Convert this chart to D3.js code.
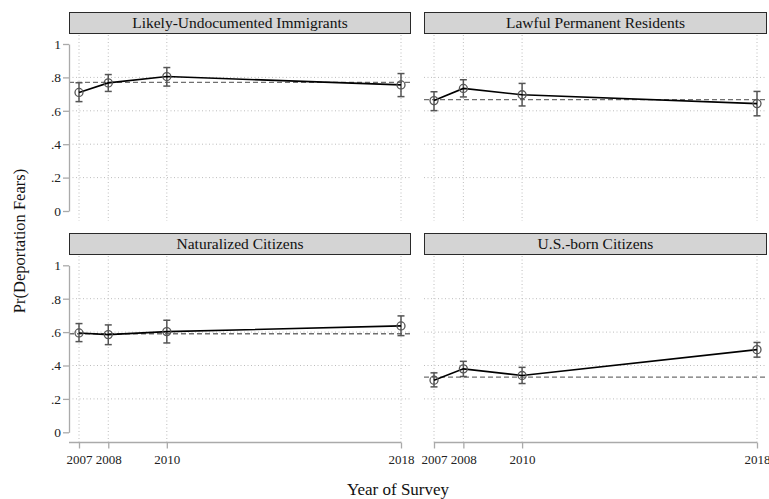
<!DOCTYPE html>
<html>
<head>
<meta charset="utf-8">
<script src="https://cdn.jsdelivr.net/npm/d3@7"></script>
<style>
  html, body { margin: 0; padding: 0; background: #fff; }
  svg { display: block; font-family: "Liberation Serif", "Times New Roman", serif; }
  svg text { font-family: "Liberation Serif", "Times New Roman", serif; }
</style>
</head>
<body>
<svg id="chart" width="769" height="499"></svg>
<script>
// ---- Data ----
const years = [2007, 2008, 2010, 2018];
const groups = ["Likely-Undocumented Immigrants", "Lawful Permanent Residents", "Naturalized Citizens", "U.S.-born Citizens"];
const estUndoc = [0.710, 0.767, 0.805, 0.755];
const lowUndoc = [0.655, 0.716, 0.748, 0.685];
const highUndoc = [0.768, 0.817, 0.859, 0.823];
const estLPR = [0.661, 0.734, 0.696, 0.643];
const lowLPR = [0.601, 0.683, 0.629, 0.570];
const highLPR = [0.714, 0.786, 0.764, 0.716];
const estNat = [0.595, 0.585, 0.603, 0.637];
const lowNat = [0.543, 0.525, 0.535, 0.579];
const highNat = [0.651, 0.643, 0.671, 0.697];
const estUSB = [0.312, 0.380, 0.340, 0.495];
const lowUSB = [0.272, 0.334, 0.292, 0.450];
const highUSB = [0.356, 0.425, 0.389, 0.538];
const refMeans = [0.770, 0.667, 0.590, 0.330];
const yTicks = [0, 0.2, 0.4, 0.6, 0.8, 1];
const yTickLabels = ["0", ".2", ".4", ".6", ".8", "1"];

const est = [estUndoc, estLPR, estNat, estUSB];
const low = [lowUndoc, lowLPR, lowNat, lowUSB];
const high = [highUndoc, highLPR, highNat, highUSB];

// ---- Layout ----
const FONT = "Liberation Serif, Times New Roman, serif";
const svg = d3.select("#chart");
const colLeft = [69, 424], colRight = [411, 767];
const rowHeaderTop = [12, 233];
const rowY0 = [211, 432.3], rowY1 = [44, 265.3];
const rowPlotBottom = [221, 442.5];

groups.forEach((name, i) => {
  const col = i % 2, row = Math.floor(i / 2);
  const L = colLeft[col], R = colRight[col];
  const x = d3.scaleLinear().domain([2007, 2018]).range([L + 10, R - 10]);
  const y = d3.scaleLinear().domain([0, 1]).range([rowY0[row], rowY1[row]]);
  const g = svg.append("g");
  const hTop = rowHeaderTop[row], hH = 21;
  const plotTop = hTop + hH + 2, plotBottom = rowPlotBottom[row];

  // header strip
  g.append("rect").attr("x", L + 0.5).attr("y", hTop + 0.5).attr("width", R - L - 1).attr("height", hH)
    .attr("fill", "#d4d4d4").attr("stroke", "#2a2a2a").attr("stroke-width", 1);
  g.append("text").attr("x", (L + R) / 2).attr("y", hTop + hH / 2 + 5.5).attr("text-anchor", "middle")
    .attr("font-family", FONT).attr("font-size", 15.5).attr("fill", "#111").text(name);

  // gridlines
  g.selectAll(".hg").data(yTicks.filter(v => v > 0 && v < 1)).join("line")
    .attr("x1", L).attr("x2", R).attr("y1", d => y(d)).attr("y2", d => y(d))
    .attr("stroke", "#bdbdbd").attr("stroke-width", 1).attr("stroke-dasharray", "1,2.5");
  g.selectAll(".vg").data(years).join("line")
    .attr("x1", d => x(d)).attr("x2", d => x(d)).attr("y1", plotTop).attr("y2", plotBottom)
    .attr("stroke", "#bdbdbd").attr("stroke-width", 1).attr("stroke-dasharray", "1,2.5");

  // reference mean (dashed)
  g.append("line").attr("x1", L).attr("x2", R).attr("y1", y(refMeans[i])).attr("y2", y(refMeans[i]))
    .attr("stroke", "#707070").attr("stroke-width", 1.3).attr("stroke-dasharray", "5,3");

  // y axis on left column
  if (col === 0) {
    const ya = d3.axisLeft(y).tickValues(yTicks).tickSize(6).tickSizeOuter(0)
      .tickFormat((d, k) => yTickLabels[k]);
    const ag = g.append("g").attr("transform", `translate(${L},0)`).call(ya);
    ag.attr("font-family", FONT);
    ag.select(".domain").attr("stroke", "#aaa").attr("stroke-width", 1.3);
    ag.selectAll(".tick line").attr("stroke", "#aaa").attr("stroke-width", 1.3);
    ag.selectAll(".tick text").attr("font-family", FONT).attr("font-size", 13.5)
      .attr("fill", "#222").attr("x", -8);
  }
  // x axis on bottom row
  if (row === 1) {
    const xa = d3.axisBottom(x).tickValues(years).tickSize(6).tickFormat(d3.format("d"));
    const ag = g.append("g").attr("transform", `translate(0,${plotBottom})`).call(xa);
    ag.attr("font-family", FONT);
    ag.select(".domain").remove();
    ag.append("line").attr("x1", col === 0 ? L : x(2007)).attr("x2", x(2018)).attr("y1", 0).attr("y2", 0)
      .attr("stroke", "#aaa").attr("stroke-width", 1.3);
    ag.selectAll(".tick line").attr("stroke", "#aaa").attr("stroke-width", 1.3);
    ag.selectAll(".tick text").attr("font-family", FONT).attr("font-size", 13)
      .attr("fill", "#222").attr("dy", "0.95em");
  }

  const pts = years.map((yr, k) => ({ yr, e: est[i][k], lo: low[i][k], hi: high[i][k] }));

  // error bars
  const eb = g.selectAll(".eb").data(pts).join("g");
  eb.append("line").attr("x1", d => x(d.yr)).attr("x2", d => x(d.yr))
    .attr("y1", d => y(d.lo)).attr("y2", d => y(d.hi)).attr("stroke", "#555").attr("stroke-width", 1.5);
  eb.append("line").attr("x1", d => x(d.yr) - 3.5).attr("x2", d => x(d.yr) + 3.5)
    .attr("y1", d => y(d.lo)).attr("y2", d => y(d.lo)).attr("stroke", "#555").attr("stroke-width", 1.5);
  eb.append("line").attr("x1", d => x(d.yr) - 3.5).attr("x2", d => x(d.yr) + 3.5)
    .attr("y1", d => y(d.hi)).attr("y2", d => y(d.hi)).attr("stroke", "#555").attr("stroke-width", 1.5);

  // connecting line
  g.append("path").datum(pts)
    .attr("d", d3.line().x(d => x(d.yr)).y(d => y(d.e)))
    .attr("fill", "none").attr("stroke", "#000").attr("stroke-width", 1.6);

  // markers
  g.selectAll(".mk").data(pts).join("circle")
    .attr("cx", d => x(d.yr)).attr("cy", d => y(d.e)).attr("r", 4)
    .attr("fill", "none").attr("stroke", "#555").attr("stroke-width", 1.3);
});

// axis titles
svg.append("text").attr("x", 398).attr("y", 495).attr("text-anchor", "middle")
  .attr("font-family", FONT).attr("font-size", 17).attr("fill", "#111").text("Year of Survey");
svg.append("text").attr("transform", "translate(25,241) rotate(-90)").attr("text-anchor", "middle")
  .attr("font-family", FONT).attr("font-size", 16.5).attr("fill", "#111").text("Pr(Deportation Fears)");
</script>
</body>
</html>
